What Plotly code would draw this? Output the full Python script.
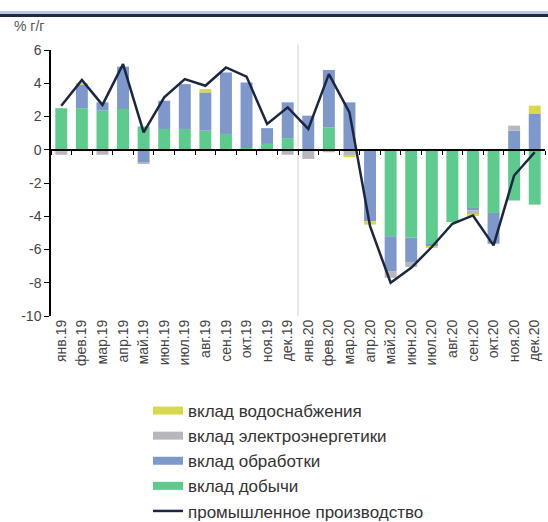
import plotly.graph_objects as go

months = ['янв.19', 'фев.19', 'мар.19', 'апр.19', 'май.19', 'июн.19', 'июл.19', 'авг.19',
          'сен.19', 'окт.19', 'ноя.19', 'дек.19', 'янв.20', 'фев.20', 'мар.20', 'апр.20',
          'май.20', 'июн.20', 'июл.20', 'авг.20', 'сен.20', 'окт.20', 'ноя.20', 'дек.20']

mining = [2.5, 2.5, 2.35, 2.45, 1.4, 1.25, 1.25, 1.15, 0.95, 0.1, 0.35, 0.7,
          0.0, 1.35, 0.0, 0.0, -5.2, -5.3, -5.7, -4.35, -3.5, -3.8, -3.05, -3.3]
processing = [-0.1, 1.45, 0.5, 2.55, -0.75, 1.7, 2.7, 2.3, 3.7, 3.95, 0.95, 2.15,
              2.05, 3.45, 2.85, -4.3, -2.1, -1.45, -0.1, 0.0, -0.15, -1.85, 1.15, 2.15]
electricity = [-0.2, 0.0, -0.3, 0.0, -0.1, 0.0, 0.0, 0.0, 0.0, 0.0, 0.0, -0.3,
               -0.55, -0.15, -0.35, 0.0, -0.4, -0.3, 0.0, 0.0, -0.25, 0.0, 0.3, 0.0]
water = [0.0, 0.05, 0.0, 0.0, 0.0, 0.0, 0.0, 0.2, 0.0, 0.0, 0.0, 0.0,
         0.0, 0.0, -0.1, -0.2, 0.0, 0.0, -0.1, 0.0, -0.05, 0.0, 0.0, 0.5]
industry = [2.65, 4.2, 2.7, 5.15, 1.05, 3.15, 4.25, 3.85, 4.95, 4.4, 1.55, 2.55,
            1.25, 4.55, 2.25, -4.6, -8.0, -7.1, -5.85, -4.45, -3.95, -5.75, -1.55, -0.15]

y_tick_values = [-10, -8, -6, -4, -2, 0, 2, 4, 6]
y_tick_labels = ['-10', '-8', '-6', '-4', '-2', '0', '2', '4', '6']

names = ['вклад добычи', 'вклад обработки', 'вклад электроэнергетики', 'вклад водоснабжения']
colors = ['#5ccb8d', '#7f98cc', '#b6b6be', '#d8d84c']
ranks = [4, 3, 2, 1]
series = [mining, processing, electricity, water]
line_name = 'промышленное производство'
line_color = '#1b2740'

fig = go.Figure()
for nm, col, rk, vals in zip(names, colors, ranks, series):
    fig.add_trace(go.Bar(x=months, y=vals, name=nm, marker=dict(color=col, line=dict(width=0)),
                         legendgroup=nm, showlegend=False))
    fig.add_trace(go.Scatter(x=[None], y=[None], mode='lines', name=nm, legendgroup=nm,
                             legendrank=rk, line=dict(color=col, width=8)))

fig.add_trace(go.Scatter(x=months, y=industry, mode='lines', name=line_name, legendgroup=line_name,
                         legendrank=5, xaxis='x2', line=dict(color=line_color, width=2.5)))

W, H = 548, 522
ml, mr, mt, mb = 51, 3, 50, 206
pw, ph = W - ml - mr, H - mt - mb
ymin, ymax = -10, 6

fig.update_layout(
    width=W, height=H,
    margin=dict(l=ml, r=mr, t=mt, b=mb, autoexpand=False),
    paper_bgcolor='white', plot_bgcolor='white',
    barmode='relative', bargap=0.42,
    font=dict(family='Liberation Sans, Arial, sans-serif', color='#444444'),
    xaxis=dict(type='category', categoryorder='array', categoryarray=months,
               range=[-0.5, len(months) - 0.5], showline=False, showgrid=False,
               ticks='', tickangle=-90, tickfont=dict(size=14, color='#444444')),
    xaxis2=dict(type='category', overlaying='x', matches='x', anchor='free',
                position=(0 - ymin) / (ymax - ymin), showline=True, linecolor='black',
                linewidth=1.5, ticks='outside', tickson='boundaries', ticklen=4,
                tickcolor='black', showticklabels=False, showgrid=False),
    yaxis=dict(range=[ymin, ymax], tickmode='array', tickvals=y_tick_values,
               ticktext=y_tick_labels, showline=True, linecolor='black', linewidth=1.5,
               ticks='outside', ticklen=5, tickcolor='black', showgrid=False, zeroline=False,
               tickfont=dict(size=14, color='#444444')),
    legend=dict(orientation='v', x=(148 - ml) / pw, xanchor='left', y=-(393 - mt - ph) / ph,
                yanchor='top', traceorder='grouped', tracegroupgap=0,
                font=dict(size=17, color='#333333'), bgcolor='rgba(0,0,0,0)'),
    shapes=[
        dict(type='line', xref='x', yref='paper', x0=11.5, x1=11.5, y0=0, y1=1.02,
             line=dict(color='#d0d0d0', width=1), layer='below'),
        dict(type='rect', xref='paper', yref='paper', x0=-ml / pw, x1=1 + mr / pw,
             y0=1 + (mt - 14) / ph, y1=1 + (mt - 11) / ph, fillcolor='#b9c9e3', line=dict(width=0)),
        dict(type='rect', xref='paper', yref='paper', x0=-ml / pw, x1=1 + mr / pw,
             y0=1 + (mt - 17) / ph, y1=1 + (mt - 14) / ph, fillcolor='#1f2b3c', line=dict(width=0)),
    ],
    annotations=[
        dict(text='% г/г', xref='paper', yref='paper', x=(12 - ml) / pw, xanchor='left',
             y=1 + (mt - 26) / ph, yanchor='middle', showarrow=False,
             font=dict(size=14, color='#555555')),
    ],
)

fig.write_html('out.html', config={'displayModeBar': False},
               post_script="document.body.style.margin='0';document.body.style.overflow='hidden';")
